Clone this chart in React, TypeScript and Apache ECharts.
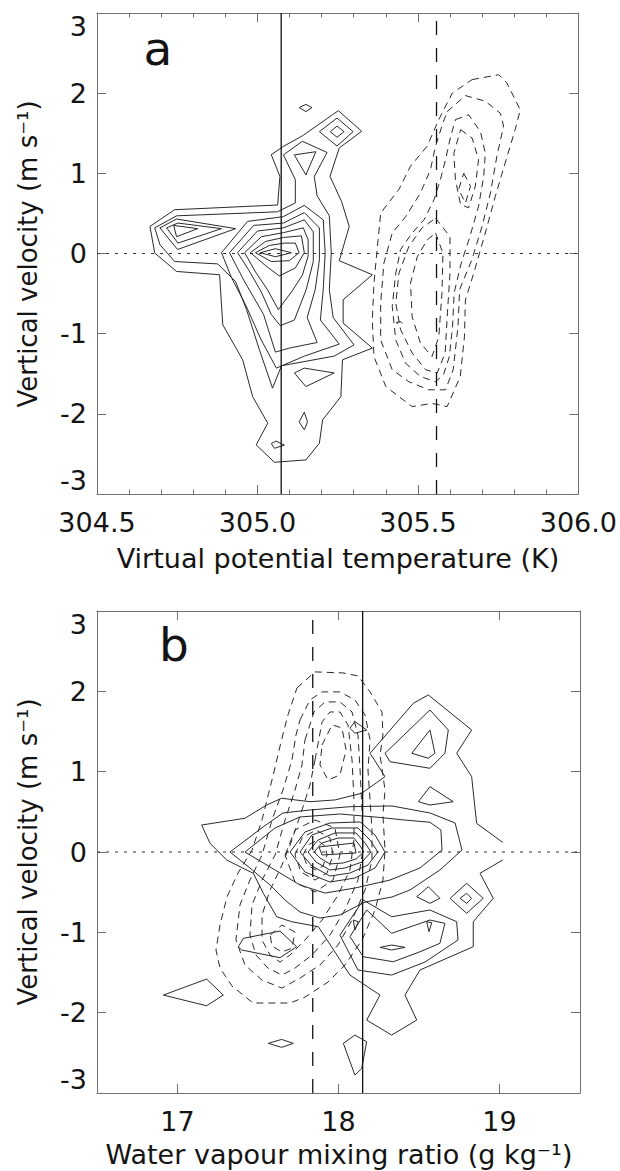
import React, { useEffect, useRef } from "react";
import * as echarts from "echarts";

type Pt = [number, number];

// ---------- Panel (a): vertical velocity vs virtual potential temperature ----------
const thetaMin = 304.5;
const thetaMax = 306.0;
const velocityMin = -3;
const velocityMax = 3;
const thetaMeanSolid = 305.074; // solid reference line
const thetaMeanDashed = 305.558; // dashed reference line

// Solid contours (closed loops)
const thetaSolidOuter: Pt[] = [
  [304.665, 0.338], [304.742, 0.546], [305.063, 0.605], [305.07, 0.962], [305.043, 1.233],
  [305.081, 1.336], [305.141, 1.47], [305.252, 1.782], [305.325, 1.524], [305.255, 1.317],
  [305.226, 0.962], [305.262, 0.65], [305.286, 0.338], [305.255, -0.09], [305.358, -0.265],
  [305.267, -0.577], [305.267, -0.868], [305.358, -1.18], [305.265, -1.326], [305.26, -1.785],
  [305.203, -2.076], [305.193, -2.366], [305.151, -2.575], [305.053, -2.604], [304.996, -2.388],
  [305.032, -2.117], [304.985, -1.785], [304.954, -1.326], [304.892, -0.89], [304.882, -0.265],
  [304.748, -0.224], [304.68, 0.006],
];
const thetaSolidL2: Pt[] = [
  [304.68, 0.32], [304.748, 0.47], [305.062, 0.52], [305.118, 0.63], [305.118, 0.92],
  [305.081, 1.23], [305.14, 1.4], [305.217, 1.26], [305.177, 0.96], [305.186, 0.72],
  [305.224, 0.47], [305.23, 0.01], [305.224, -0.45], [305.236, -0.8], [305.301, -1.14],
  [305.239, -1.28], [305.075, -1.4], [305.047, -1.68], [305.006, -1.2], [304.966, -0.7],
  [304.932, -0.35], [304.876, -0.13], [304.742, -0.1], [304.696, 0.11],
];
const thetaSolidL3: Pt[] = [
  [304.888, 0.01], [304.969, 0.4], [305.081, 0.46], [305.146, 0.6], [305.205, 0.42],
  [305.211, 0.01], [305.205, -0.45], [305.196, -0.83], [305.255, -1.13], [305.146, -1.28],
  [305.059, -1.43], [305.012, -1.08], [304.963, -0.64], [304.919, -0.3],
];
const thetaSolidL4: Pt[] = [
  [304.913, 0.01], [304.988, 0.35], [305.081, 0.38], [305.146, 0.51], [305.193, 0.32],
  [305.193, -0.08], [305.18, -0.45], [305.155, -0.8], [305.186, -1.11], [305.099, -1.18],
  [305.056, -1.23], [305.019, -0.76], [304.957, -0.33],
];
const thetaSolidL5: Pt[] = [
  [304.938, 0.01], [305.0, 0.28], [305.081, 0.32], [305.146, 0.42], [305.174, 0.27],
  [305.174, -0.1], [305.152, -0.45], [305.115, -0.83], [305.071, -0.9], [305.043, -0.76],
  [305.012, -0.48], [304.972, -0.2],
];
const thetaSolidL6: Pt[] = [
  [304.96, 0.01], [305.012, 0.21], [305.081, 0.26], [305.143, 0.32], [305.158, 0.17],
  [305.158, -0.03], [305.14, -0.27], [305.106, -0.48], [305.065, -0.7], [305.031, -0.45],
  [304.994, -0.23],
];
const thetaSolidL7: Pt[] = [
  [304.978, 0.01], [305.025, 0.15], [305.081, 0.2], [305.137, 0.22], [305.146, 0.01],
  [305.118, -0.18], [305.068, -0.28], [305.025, -0.15],
];
const thetaSolidL8: Pt[] = [
  [304.994, 0.01], [305.037, 0.1], [305.084, 0.13], [305.118, 0.13], [305.13, 0.01],
  [305.099, -0.09], [305.043, -0.1],
];
const thetaSolidL9: Pt[] = [[305.009, 0.01], [305.056, 0.06], [305.106, 0.01], [305.056, -0.04]];
const thetaSolidLobe3: Pt[] = [[304.696, 0.32], [304.748, 0.43], [304.932, 0.31], [304.751, 0.05]];
const thetaSolidLobe4: Pt[] = [[304.717, 0.32], [304.752, 0.38], [304.888, 0.31], [304.752, 0.13]];
const thetaSolidLobe5: Pt[] = [[304.739, 0.35], [304.814, 0.31], [304.748, 0.21]];
const thetaSolidTopDiamond: Pt[] = [[305.13, 1.82], [305.151, 1.86], [305.17, 1.82], [305.151, 1.77]];
const thetaSolidUpper2: Pt[] = [[305.193, 1.52], [305.248, 1.69], [305.298, 1.52], [305.248, 1.34]];
const thetaSolidUpper3: Pt[] = [[305.227, 1.52], [305.248, 1.59], [305.27, 1.52], [305.248, 1.45]];
const thetaSolidUpperLeft: Pt[] = [[305.115, 1.23], [305.182, 1.27], [305.151, 0.98]];
const thetaSolidLowTriangle: Pt[] = [[305.115, -1.49], [305.146, -1.43], [305.239, -1.49], [305.151, -1.66]];
const thetaSolidLowDiamond: Pt[] = [[305.13, -2.1], [305.146, -1.98], [305.156, -2.1], [305.146, -2.2]];
const thetaSolidBottomLoop: Pt[] = [[305.043, -2.37], [305.058, -2.34], [305.084, -2.39], [305.053, -2.43]];

const thetaSolidContours: Pt[][] = [
  thetaSolidOuter, thetaSolidL2, thetaSolidL3, thetaSolidL4, thetaSolidL5, thetaSolidL6,
  thetaSolidL7, thetaSolidL8, thetaSolidL9, thetaSolidLobe3, thetaSolidLobe4, thetaSolidLobe5,
  thetaSolidTopDiamond, thetaSolidUpper2, thetaSolidUpper3, thetaSolidUpperLeft,
  thetaSolidLowTriangle, thetaSolidLowDiamond, thetaSolidBottomLoop,
];

// Dashed contours (closed loops)
const thetaDashedD1: Pt[] = [
  [305.669, 2.169], [305.752, 2.23], [305.777, 2.13], [305.819, 1.79], [305.803, 1.545],
  [305.772, 1.13], [305.741, 0.71], [305.71, 0.255], [305.674, -0.245], [305.648, -0.58],
  [305.645, -1.04], [305.632, -1.535], [305.591, -1.91], [305.544, -1.87], [305.482, -1.91],
  [305.4, -1.66], [305.363, -1.285], [305.358, -0.83], [305.363, -0.37], [305.374, 0.09],
  [305.384, 0.505], [305.441, 0.8], [305.477, 1.09], [305.529, 1.34], [305.565, 1.67],
  [305.607, 2.0],
];
const thetaDashedD2: Pt[] = [
  [305.591, 1.77], [305.648, 1.97], [305.71, 1.9], [305.757, 1.75], [305.767, 1.59],
  [305.746, 1.21], [305.726, 0.755], [305.7, 0.34], [305.668, -0.08], [305.63, -0.45],
  [305.625, -0.91], [305.61, -1.45], [305.586, -1.7], [305.534, -1.7], [305.472, -1.6],
  [305.42, -1.45], [305.384, -1.08], [305.384, -0.62], [305.394, -0.12], [305.42, 0.255],
  [305.462, 0.46], [305.508, 0.755], [305.539, 1.045], [305.555, 1.34], [305.575, 1.59],
];
const thetaDashedD3: Pt[] = [
  [305.617, 1.67], [305.658, 1.73], [305.695, 1.52], [305.71, 1.25], [305.705, 0.96],
  [305.689, 0.59], [305.662, 0.21], [305.635, -0.12], [305.613, -0.49], [305.608, -0.91],
  [305.598, -1.285], [305.58, -1.51], [305.555, -1.6], [305.508, -1.535], [305.462, -1.37],
  [305.431, -1.08], [305.42, -0.66], [305.431, -0.245], [305.446, 0.05], [305.482, 0.255],
  [305.519, 0.42], [305.55, 0.67], [305.57, 0.92], [305.586, 1.17], [305.602, 1.46],
];
const thetaDashedUpper4: Pt[] = [
  [305.633, 1.545], [305.669, 1.44], [305.689, 1.17], [305.679, 0.84], [305.658, 0.57],
  [305.633, 0.61], [305.617, 0.92], [305.612, 1.25],
];
const thetaDashedUpper5: Pt[] = [[305.643, 1.0], [305.664, 0.84], [305.648, 0.63], [305.627, 0.8]];
const thetaDashedLower4: Pt[] = [
  [305.555, 0.44], [305.6, 0.21], [305.6, -0.245], [305.592, -0.74], [305.585, -1.24],
  [305.56, -1.49], [305.524, -1.45], [305.482, -1.24], [305.446, -0.95], [305.431, -0.62],
  [305.441, -0.245], [305.472, 0.09], [305.513, 0.32],
];
const thetaDashedLower5: Pt[] = [
  [305.555, 0.255], [305.578, 0.005], [305.575, -0.49], [305.565, -1.04], [305.544, -1.285],
  [305.508, -1.12], [305.482, -0.79], [305.477, -0.37], [305.498, -0.04], [305.529, 0.17],
];
const thetaDashedSmall: Pt[] = [[305.432, -0.86], [305.445, -0.85], [305.452, -0.87], [305.44, -0.885]];

const thetaDashedContours: Pt[][] = [
  thetaDashedD1, thetaDashedD2, thetaDashedD3, thetaDashedUpper4, thetaDashedUpper5,
  thetaDashedLower4, thetaDashedLower5, thetaDashedSmall,
];

// ---------- Panel (b): vertical velocity vs water vapour mixing ratio ----------
const mixMin = 16.5;
const mixMax = 19.5;
const mixLabels = [17, 18, 19];
const mixMeanSolid = 18.15;
const mixMeanDashed = 17.84;

// Outer solid contour leaves the sampled range on the right, so it stays open
const mixSolidOuter: Pt[] = [
  [19.02, -0.1], [18.879, -0.265], [18.961, -0.577], [18.837, -0.868], [18.837, -1.179],
  [18.506, -1.469], [18.413, -1.781], [18.486, -2.092], [18.33, -2.279], [18.175, -2.092],
  [18.258, -1.781], [18.071, -1.532], [17.875, -0.93], [17.709, -0.868], [17.616, -0.806],
  [17.533, -0.514], [17.471, -0.265], [17.306, -0.1], [17.202, 0.108], [17.15, 0.336],
  [17.419, 0.42], [17.554, 0.585], [17.647, 0.669], [17.823, 0.626], [17.978, 0.648],
  [18.144, 0.731], [18.289, 0.938], [18.196, 1.229], [18.465, 1.852], [18.558, 1.955],
  [18.827, 1.519], [18.734, 1.229], [18.827, 0.938], [18.858, 0.357], [19.02, 0.12],
];
const mixSolidC2: Pt[] = [
  [17.326, 0.0], [17.531, 0.311], [17.655, 0.486], [17.823, 0.523], [18.071, 0.564],
  [18.332, 0.573], [18.568, 0.486], [18.724, 0.361], [18.767, 0.025], [18.63, -0.224],
  [18.444, -0.473], [18.332, -0.56], [18.165, -0.623], [18.009, -0.784], [17.885, -0.822],
  [17.761, -0.747], [17.668, -0.598], [17.575, -0.411], [17.45, -0.199],
];
const mixSolidC3: Pt[] = [
  [17.419, 0.0], [17.606, 0.299], [17.761, 0.436], [18.009, 0.473], [18.258, 0.43],
  [18.4, 0.4], [18.568, 0.37], [18.636, 0.274], [18.643, 0.025], [18.506, -0.199],
  [18.32, -0.349], [18.103, -0.448], [17.916, -0.511], [17.761, -0.411], [17.606, -0.224],
];
const mixSolidC4: Pt[] = [
  [17.699, 0.0], [17.792, 0.249], [17.947, 0.361], [18.134, 0.374], [18.227, 0.212],
  [18.289, 0.0], [18.227, -0.199], [18.102, -0.324], [17.947, -0.374], [17.792, -0.249],
];
const mixSolidC5: Pt[] = [
  [17.761, 0.0], [17.835, 0.212], [17.96, 0.299], [18.121, 0.299], [18.196, 0.149],
  [18.245, 0.0], [18.183, -0.162], [18.071, -0.262], [17.947, -0.299], [17.835, -0.174],
];
const mixSolidC6: Pt[] = [
  [17.811, 0.0], [17.873, 0.149], [17.978, 0.237], [18.109, 0.237], [18.165, 0.112],
  [18.202, 0.0], [18.146, -0.125], [18.04, -0.199], [17.947, -0.224], [17.86, -0.125],
];
const mixSolidC7: Pt[] = [
  [17.848, 0.0], [17.898, 0.112], [17.997, 0.174], [18.096, 0.174], [18.134, 0.075],
  [18.158, 0.0], [18.109, -0.087], [18.028, -0.137], [17.947, -0.149], [17.885, -0.075],
];
const mixSolidC8: Pt[] = [[17.879, 0.062], [18.096, 0.112], [18.109, -0.012], [17.898, -0.037]];
const mixSolidLowerOuter: Pt[] = [
  [18.154, -0.598], [18.33, -0.806], [18.568, -0.722], [18.734, -0.868], [18.742, -1.096],
  [18.537, -1.37], [18.33, -1.532], [18.121, -1.47], [18.009, -1.034],
];
const mixSolidLowerInner: Pt[] = [
  [18.175, -0.722], [18.33, -1.012], [18.568, -0.847], [18.661, -0.888], [18.63, -1.137],
  [18.506, -1.242], [18.34, -1.366], [18.154, -1.304], [18.071, -1.055],
];
const mixSolidSmall: Pt[][] = [
  [[18.486, -0.557], [18.558, -0.432], [18.63, -0.577], [18.568, -0.639]],
  [[18.693, -0.577], [18.796, -0.39], [18.899, -0.577], [18.796, -0.763]],
  [[18.755, -0.577], [18.796, -0.514], [18.827, -0.577], [18.796, -0.639]],
  [[18.548, -0.868], [18.579, -0.88], [18.562, -0.993]],
  [[18.258, -1.187], [18.33, -1.158], [18.413, -1.187], [18.33, -1.22]],
  [[18.03, -2.382], [18.102, -2.279], [18.175, -2.362], [18.144, -2.694], [18.102, -2.777]],
  [[16.912, -1.781], [17.181, -1.582], [17.284, -1.781], [17.181, -1.914]],
  [[17.378, -1.179], [17.409, -1.075], [17.637, -0.984], [17.74, -1.179], [17.637, -1.316], [17.399, -1.22]],
  [[17.564, -2.382], [17.647, -2.333], [17.719, -2.382], [17.647, -2.432]],
  [[18.092, -0.847], [18.123, -0.868], [18.102, -0.971]],
  [[18.496, 0.626], [18.568, 0.813], [18.713, 0.626], [18.568, 0.585]],
  [[18.289, 1.229], [18.568, 1.768], [18.682, 1.519], [18.661, 1.229], [18.568, 1.042], [18.32, 1.124]],
  [[18.455, 1.229], [18.568, 1.519], [18.599, 1.229], [18.558, 1.167]],
  [[18.071, 1.54], [18.102, 1.623], [18.175, 1.519], [18.102, 1.478]],
];
const mixSolidContours: Pt[][] = [
  mixSolidC2, mixSolidC3, mixSolidC4, mixSolidC5, mixSolidC6, mixSolidC7, mixSolidC8,
  mixSolidLowerOuter, mixSolidLowerInner, ...mixSolidSmall,
];

const mixDashedD1: Pt[] = [
  [17.742, 2.042], [17.854, 2.242], [18.028, 2.229], [18.121, 2.192], [18.196, 1.993],
  [18.27, 1.743], [18.276, 1.457], [18.258, 1.208], [18.289, 0.772], [18.276, 0.461],
  [18.289, 0.025], [18.276, -0.349], [18.227, -0.722], [18.146, -1.096], [18.04, -1.407],
  [17.935, -1.619], [17.792, -1.806], [17.699, -1.88], [17.469, -1.88], [17.339, -1.669],
  [17.264, -1.445], [17.239, -1.22], [17.264, -0.909], [17.307, -0.56], [17.376, -0.262],
  [17.463, 0.025], [17.525, 0.399], [17.599, 0.996], [17.643, 1.37], [17.686, 1.706],
];
const mixDashedD2: Pt[] = [
  [17.761, 1.644], [17.823, 1.893], [17.898, 1.993], [18.009, 1.993], [18.102, 1.893],
  [18.165, 1.706], [18.196, 1.395], [18.183, 1.021], [18.196, 0.648], [18.208, 0.274],
  [18.208, -0.1], [18.165, -0.473], [18.084, -0.847], [17.997, -1.158], [17.885, -1.407],
  [17.761, -1.569], [17.649, -1.694], [17.525, -1.594], [17.419, -1.407], [17.363, -1.096],
  [17.388, -0.66], [17.45, -0.349], [17.525, -0.037], [17.587, 0.399], [17.655, 0.772],
  [17.711, 1.146], [17.736, 1.457],
];
const mixDashedD3: Pt[] = [
  [17.792, 1.395], [17.848, 1.743], [17.916, 1.868], [18.009, 1.868], [18.084, 1.743],
  [18.121, 1.457], [18.134, 1.021], [18.146, 0.523], [18.152, 0.025], [18.121, -0.349],
  [18.04, -0.722], [17.947, -1.034], [17.835, -1.283], [17.73, -1.445], [17.649, -1.532],
  [17.562, -1.445], [17.488, -1.283], [17.45, -1.034], [17.463, -0.66], [17.525, -0.349],
  [17.606, -0.037], [17.668, 0.399], [17.73, 0.772], [17.773, 1.083],
];
const mixDashedD4: Pt[] = [
  [17.854, 1.146], [17.898, 1.619], [17.947, 1.743], [18.009, 1.743], [18.059, 1.582],
  [18.084, 1.146], [18.096, 0.648], [18.096, 0.149], [18.071, -0.224], [17.997, -0.535],
  [17.898, -0.847], [17.792, -1.096], [17.699, -1.283], [17.637, -1.37], [17.575, -1.283],
  [17.525, -1.096], [17.525, -0.785], [17.575, -0.473], [17.649, -0.162], [17.711, 0.149],
  [17.773, 0.523], [17.823, 0.834],
];
const mixDashedUpper5: Pt[] = [
  [17.898, 1.332], [17.96, 1.582], [18.022, 1.544], [18.047, 1.27], [18.009, 0.959],
  [17.935, 0.897], [17.885, 1.083],
];
const mixDashedLower6: Pt[] = [
  [17.575, -1.034], [17.649, -0.909], [17.73, -0.996], [17.711, -1.196], [17.649, -1.245], [17.587, -1.171],
];
const mixDashedCore1: Pt[] = [
  [17.668, -0.037], [17.73, 0.274], [17.854, 0.399], [17.978, 0.299], [18.009, -0.037],
  [17.966, -0.349], [17.854, -0.498], [17.73, -0.374],
];
const mixDashedCore2: Pt[] = [
  [17.73, -0.037], [17.773, 0.174], [17.86, 0.274], [17.947, 0.174], [17.966, -0.037],
  [17.929, -0.261], [17.854, -0.349], [17.767, -0.249],
];
const mixDashedCore3: Pt[] = [
  [17.78, -0.037], [17.811, 0.087], [17.867, 0.149], [17.916, 0.075], [17.929, -0.037],
  [17.904, -0.174], [17.86, -0.224], [17.804, -0.162],
];
const mixDashedContours: Pt[][] = [
  mixDashedD1, mixDashedD2, mixDashedD3, mixDashedD4, mixDashedUpper5, mixDashedLower6,
  mixDashedCore1, mixDashedCore2, mixDashedCore3,
];

// ---------- styling ----------
const FONT = "'DejaVu Sans', 'Liberation Sans', sans-serif";
const INK = "#141414";
const FRAME = "#707070";
const CONTOUR = "#2a2a2a";

const closeLoop = (loop: Pt[]): Pt[] => [...loop, loop[0]];

function contourSeries(loops: Pt[][], axis: number, dashed: boolean, closed = true) {
  return loops.map((loop) => ({
    type: "line",
    xAxisIndex: axis,
    yAxisIndex: axis,
    data: closed ? closeLoop(loop) : loop,
    symbol: "none",
    showSymbol: false,
    silent: true,
    z: 2,
    lineStyle: { color: CONTOUR, width: 1, type: dashed ? [7, 5] : "solid" },
  }));
}

function refLine(axis: number, data: Pt[], type: any, width = 1.3, color = "#111") {
  return {
    type: "line",
    xAxisIndex: axis,
    yAxisIndex: axis,
    data,
    symbol: "none",
    showSymbol: false,
    silent: true,
    z: 4,
    lineStyle: { color, width, type },
  };
}

function xAxisPair(grid: number, min: number, max: number, labelled: any) {
  const common = {
    gridIndex: grid,
    type: "value",
    min,
    max,
    axisLine: { show: true, onZero: false, lineStyle: { color: FRAME, width: 1 } },
    splitLine: { show: false },
    minorSplitLine: { show: false },
  };
  return [
    { ...common, position: "bottom", ...labelled.bottom },
    { ...common, position: "top", ...labelled.top },
  ];
}

function yAxisPair(grid: number) {
  const common = {
    gridIndex: grid,
    type: "value",
    min: velocityMin,
    max: velocityMax,
    interval: 1,
    axisLine: { show: true, onZero: false, lineStyle: { color: FRAME, width: 1 } },
    axisTick: { show: true, inside: true, length: 9, lineStyle: { color: FRAME } },
    splitLine: { show: false },
  };
  return [
    {
      ...common,
      position: "left",
      axisLabel: {
        show: true,
        margin: 10,
        fontSize: 27,
        fontFamily: FONT,
        color: INK,
        verticalAlignMaxLabel: "top",
        verticalAlignMinLabel: "bottom",
      },
    },
    { ...common, position: "right", axisLabel: { show: false } },
  ];
}

const tickLabel = { fontSize: 27, fontFamily: FONT, color: INK, margin: 15 };

function buildOption() {
  const thetaTicks = {
    interval: 0.5,
    axisTick: { show: true, inside: true, length: 9, lineStyle: { color: FRAME } },
    minorTick: { show: true, splitNumber: 5, length: 4.5, lineStyle: { color: FRAME } },
  };
  const mixTicks = {
    axisTick: { show: true, inside: true, length: 9, customValues: mixLabels, lineStyle: { color: FRAME } },
  };
  const xAxes = [
    ...xAxisPair(0, thetaMin, thetaMax, {
      bottom: {
        ...thetaTicks,
        axisLabel: { show: true, ...tickLabel, formatter: (v: number) => v.toFixed(1) },
      },
      top: { ...thetaTicks, axisLabel: { show: false } },
    }),
    ...xAxisPair(1, mixMin, mixMax, {
      bottom: {
        ...mixTicks,
        axisLabel: { show: true, ...tickLabel, customValues: mixLabels, formatter: (v: number) => String(v) },
      },
      top: { ...mixTicks, axisLabel: { show: false } },
    }),
  ];
  const yAxes = [...yAxisPair(0), ...yAxisPair(1)];

  const series: any[] = [
    ...contourSeries(thetaSolidContours, 0, false),
    ...contourSeries(thetaDashedContours, 0, true),
    refLine(0, [[thetaMin, 0], [thetaMax, 0]], [3, 6], 1.2, "#333"),
    refLine(0, [[thetaMeanSolid, velocityMin], [thetaMeanSolid, velocityMax]], "solid"),
    refLine(0, [[thetaMeanDashed, velocityMin], [thetaMeanDashed, velocityMax]], [14, 13]),

    ...contourSeries([mixSolidOuter], 2, false, false),
    ...contourSeries(mixSolidContours, 2, false),
    ...contourSeries(mixDashedContours, 2, true),
    refLine(2, [[mixMin, 0], [mixMax, 0]], [3, 6], 1.2, "#333"),
    refLine(2, [[mixMeanSolid, velocityMin], [mixMeanSolid, velocityMax]], "solid"),
    refLine(2, [[mixMeanDashed, velocityMin], [mixMeanDashed, velocityMax]], [14, 13]),
  ];

  const text = (x: number, y: number, t: string, size: number, rotation = 0) => ({
    type: "text",
    x,
    y,
    rotation,
    silent: true,
    z: 10,
    style: {
      text: t,
      fill: INK,
      font: `${size}px ${FONT}`,
      textAlign: "center",
      textVerticalAlign: "middle",
      align: "center",
      verticalAlign: "middle",
    },
  });

  return {
    animation: false,
    backgroundColor: "#ffffff",
    grid: [
      { left: 97, top: 13, width: 483, height: 481 },
      { left: 97, top: 611, width: 483, height: 482 },
    ],
    xAxis: xAxes,
    yAxis: yAxes,
    series,
    graphic: [
      text(158, 48, "a", 47),
      text(174, 644, "b", 47),
      text(28, 254, "Vertical velocity (m s\u207B\u00B9)", 26, Math.PI / 2),
      text(28, 852, "Vertical velocity (m s\u207B\u00B9)", 26, Math.PI / 2),
      text(338, 558, "Virtual potential temperature (K)", 27),
      text(339, 1154, "Water vapour mixing ratio (g kg\u207B\u00B9)", 27),
    ],
  };
}

export default function App() {
  const ref = useRef<HTMLDivElement>(null);
  useEffect(() => {
    if (!ref.current) return;
    const chart = echarts.init(ref.current, undefined, { renderer: "svg" });
    chart.setOption(buildOption() as any);
    return () => chart.dispose();
  }, []);
  return (
    <div
      ref={ref}
      style={{ position: "absolute", left: 0, top: 0, width: 620, height: 1171, background: "#fff" }}
    />
  );
}
